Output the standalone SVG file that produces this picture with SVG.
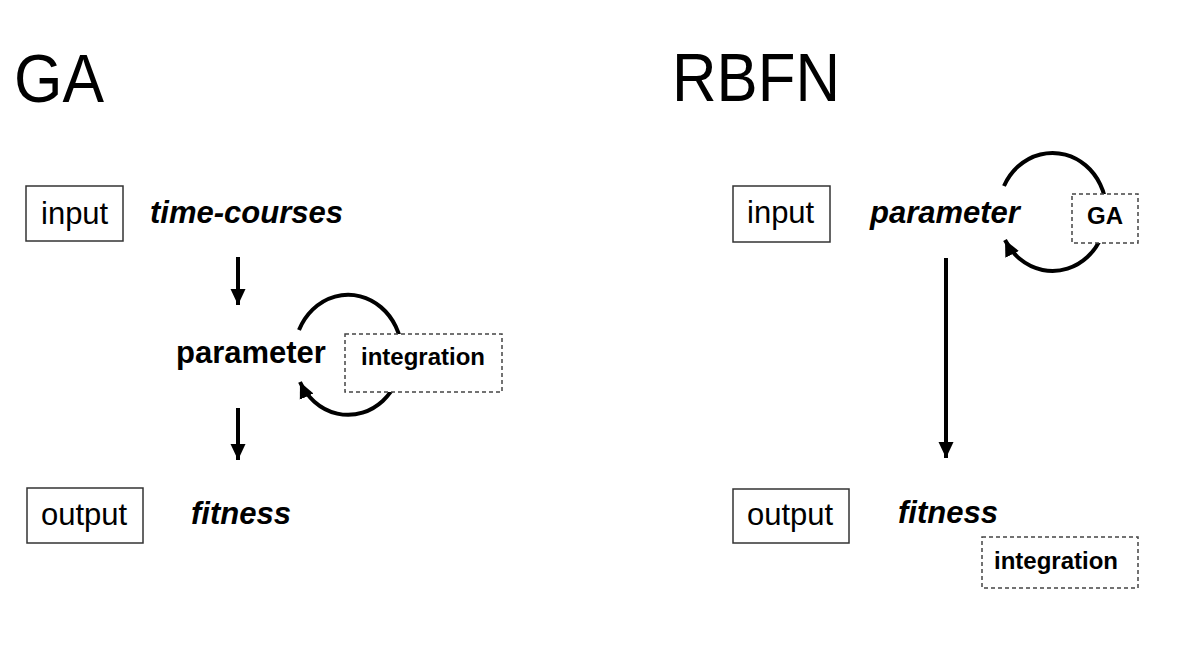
<svg xmlns="http://www.w3.org/2000/svg" width="1200" height="651" viewBox="0 0 1200 651">
<style>
.title{font-family:"Liberation Sans",Arial,sans-serif;font-size:68px;fill:#000}
.lbl{font-family:"Liberation Sans",Arial,sans-serif;font-size:31px;fill:#000}
.bi{font-family:"Liberation Sans",Arial,sans-serif;font-size:31px;font-weight:bold;font-style:italic;fill:#000}
.b{font-family:"Liberation Sans",Arial,sans-serif;font-size:31px;font-weight:bold;fill:#000}
.small{font-family:"Liberation Sans",Arial,sans-serif;font-size:24px;font-weight:bold;fill:#000}
.box{fill:#fff;stroke:#333;stroke-width:1.5}
.dbox{fill:#fff;stroke:#444;stroke-width:1.5;stroke-dasharray:4 3}
.conn{fill:none;stroke:#000;stroke-width:4}
</style>
<defs>
<marker id="ah" markerUnits="userSpaceOnUse" markerWidth="18" markerHeight="18" refX="16" refY="8" orient="auto">
<path d="M0,0.5 L16,8 L0,15.5 Z" fill="#000"/>
</marker>
</defs>
<rect width="1200" height="651" fill="#fff"/>

<g id="connectors">
<line class="conn" x1="238" y1="257" x2="238" y2="305" marker-end="url(#ah)"/>
<line class="conn" x1="238" y1="408" x2="238" y2="460" marker-end="url(#ah)"/>
<path class="conn" d="M 299 330 A 54 60 0 1 1 300 382" marker-end="url(#ah)"/>
<line class="conn" x1="946" y1="258" x2="946" y2="458" marker-end="url(#ah)"/>
<path class="conn" d="M 1004 186 A 54 59 0 1 1 1005 240" marker-end="url(#ah)"/>
</g>

<g id="title-ga"><text class="title" x="14" y="102" textLength="90" lengthAdjust="spacingAndGlyphs">GA</text></g>
<g id="title-rbfn"><text class="title" x="672" y="101" textLength="168" lengthAdjust="spacingAndGlyphs">RBFN</text></g>

<g id="ga-input">
<rect class="box" x="26" y="186" width="97" height="55"/>
<text class="lbl" x="41" y="224">input</text>
</g>
<g id="ga-timecourses"><text class="bi" x="150" y="223" font-size="31.5">time-courses</text></g>
<g id="ga-parameter"><text class="b" x="176" y="363">parameter</text></g>
<g id="ga-integration">
<rect class="dbox" x="345" y="334" width="157" height="58"/>
<text class="small" x="361" y="365">integration</text>
</g>
<g id="ga-output">
<rect class="box" x="27" y="488" width="116" height="55"/>
<text class="lbl" x="41" y="525">output</text>
</g>
<g id="ga-fitness"><text class="bi" x="191" y="524">fitness</text></g>

<g id="rbfn-input">
<rect class="box" x="733" y="186" width="97" height="56"/>
<text class="lbl" x="747" y="223">input</text>
</g>
<g id="rbfn-parameter"><text class="bi" x="870" y="223">parameter</text></g>
<g id="rbfn-ga">
<rect class="dbox" x="1072" y="194" width="66" height="49"/>
<text class="small" x="1105" y="224" text-anchor="middle" font-size="26">GA</text>
</g>
<g id="rbfn-output">
<rect class="box" x="733" y="489" width="116" height="54"/>
<text class="lbl" x="747" y="525">output</text>
</g>
<g id="rbfn-fitness"><text class="bi" x="898" y="523">fitness</text></g>
<g id="rbfn-integration">
<rect class="dbox" x="982" y="537" width="156" height="51"/>
<text class="small" x="994" y="569">integration</text>
</g>
</svg>
